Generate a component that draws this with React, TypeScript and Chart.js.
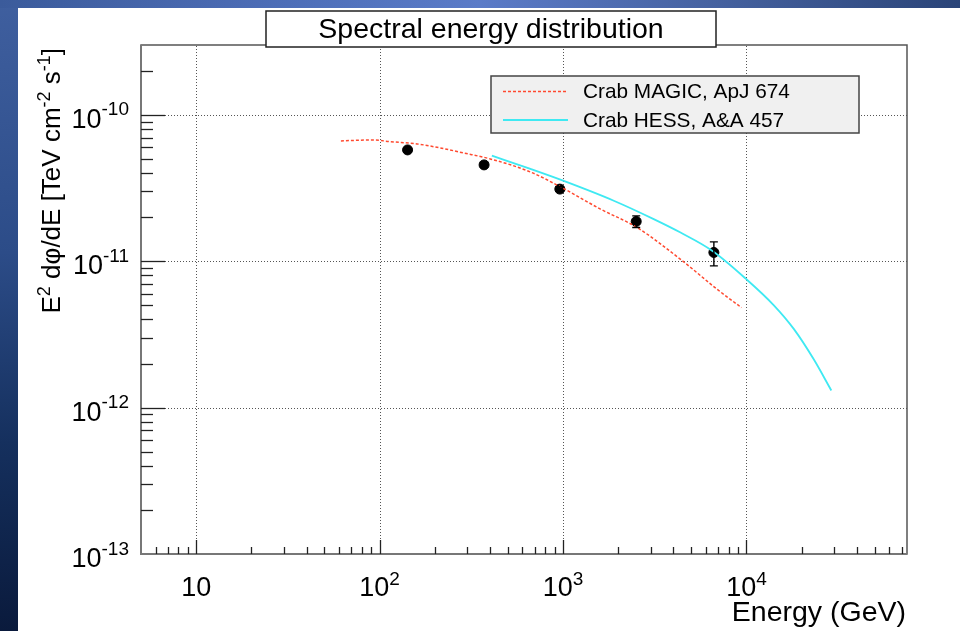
import React, { useEffect, useRef } from 'react';
import { Chart, registerables } from 'chart.js';
Chart.register(...registerables);

// ---------- data ----------
const magicEnergy = [61.5, 92, 114, 160, 214, 287, 401, 664, 1000, 1600, 2530, 4370, 6920, 9390];
const magicFlux = [6.64e-11, 6.74e-11, 6.56e-11, 6.33e-11, 5.94e-11, 5.49e-11, 5.0e-11, 4.07e-11, 3.15e-11, 2.27e-11, 1.7e-11, 1.03e-11, 6.43e-12, 4.82e-12];

const hessEnergy = [409, 664, 1000, 1890, 3120, 4370, 6500, 9910, 14100, 18100, 23300, 29000];
const hessFlux = [5.26e-11, 4.27e-11, 3.55e-11, 2.59e-11, 1.94e-11, 1.57e-11, 1.18e-11, 7.6e-12, 5.0e-12, 3.45e-12, 2.13e-12, 1.31e-12];

const pointEnergy = [142, 371, 960, 2505, 6640];
const pointFlux = [5.76e-11, 4.55e-11, 3.11e-11, 1.87e-11, 1.148e-11];
const pointFluxLow = [5.55e-11, 4.4e-11, 3.0e-11, 1.7e-11, 9.29e-12];
const pointFluxHigh = [5.98e-11, 4.72e-11, 3.23e-11, 2.04e-11, 1.355e-11];

const xMin = 5;
const xMax = 75000;
const yMin = 1e-13;
const yMax = 3e-10;

const xTickValues = [10, 100, 1000, 10000];
const xTickLabels: [string, string][] = [['10', ''], ['10', '2'], ['10', '3'], ['10', '4']];
const yTickValues = [1e-13, 1e-12, 1e-11, 1e-10];
const yTickLabels: [string, string][] = [['10', '-13'], ['10', '-12'], ['10', '-11'], ['10', '-10']];

const seriesNames = ['Crab MAGIC, ApJ 674', 'Crab HESS, A&A 457'];
const chartTitle = 'Spectral energy distribution';
const xTitle = 'Energy (GeV)';
const yTitleParts: [string, boolean][] = [
  ['E', false], ['2', true], [' d\u03c6/dE [TeV cm', false], ['-2', true], [' s', false], ['-1', true], [']', false],
];

const FONT = '"Liberation Sans", Arial, Helvetica, sans-serif';
const MAGIC_COLOR = '#ff4a30';
const HESS_COLOR = '#3fe9f2';

function drawRich(
  ctx: CanvasRenderingContext2D,
  parts: [string, boolean][],
  x: number,
  y: number,
  align: 'left' | 'center' | 'right',
  size: number,
  supSize: number,
  rise: number
) {
  const widths = parts.map(([t, s]) => {
    ctx.font = `${s ? supSize : size}px ${FONT}`;
    return ctx.measureText(t).width;
  });
  const total = widths.reduce((a, b) => a + b, 0);
  let cx = align === 'left' ? x : align === 'center' ? x - total / 2 : x - total;
  ctx.textAlign = 'left';
  ctx.textBaseline = 'alphabetic';
  parts.forEach(([t, s], i) => {
    ctx.font = `${s ? supSize : size}px ${FONT}`;
    ctx.fillText(t, cx, s ? y - rise : y);
    cx += widths[i];
  });
}

const rootStyle = {
  id: 'rootStyle',
  beforeDatasetsDraw(chart: any) {
    const { ctx, chartArea: a, scales } = chart;
    const xs = scales.x;
    const ys = scales.y;
    ctx.save();
    ctx.strokeStyle = '#555';
    ctx.lineWidth = 1;
    ctx.setLineDash([1, 2]);
    xTickValues.forEach((v) => {
      const px = Math.round(xs.getPixelForValue(v)) + 0.5;
      ctx.beginPath();
      ctx.moveTo(px, a.bottom);
      ctx.lineTo(px, a.top);
      ctx.stroke();
    });
    yTickValues.forEach((v) => {
      const py = Math.round(ys.getPixelForValue(v)) + 0.5;
      ctx.beginPath();
      ctx.moveTo(a.left, py);
      ctx.lineTo(a.right, py);
      ctx.stroke();
    });
    ctx.restore();
  },
  afterDatasetsDraw(chart: any) {
    const { ctx, chartArea: a, scales } = chart;
    const xs = scales.x;
    const ys = scales.y;
    ctx.save();

    // error bars
    ctx.strokeStyle = '#000';
    ctx.lineWidth = 1.4;
    pointEnergy.forEach((e, i) => {
      const px = xs.getPixelForValue(e);
      const pl = ys.getPixelForValue(pointFluxLow[i]);
      const ph = ys.getPixelForValue(pointFluxHigh[i]);
      ctx.beginPath();
      ctx.moveTo(px, pl);
      ctx.lineTo(px, ph);
      ctx.moveTo(px - 4, pl);
      ctx.lineTo(px + 4, pl);
      ctx.moveTo(px - 4, ph);
      ctx.lineTo(px + 4, ph);
      ctx.stroke();
    });

    // frame
    ctx.strokeStyle = '#555';
    ctx.lineWidth = 1.5;
    ctx.strokeRect(a.left, a.top, a.right - a.left, a.bottom - a.top);
    ctx.strokeStyle = '#777';
    ctx.lineWidth = 2;
    ctx.beginPath();
    ctx.moveTo(a.left, a.top);
    ctx.lineTo(a.left, a.bottom);
    ctx.lineTo(a.right, a.bottom);
    ctx.stroke();

    // tick marks
    ctx.strokeStyle = '#222';
    ctx.lineWidth = 1.3;
    const xMajorLen = 14;
    const yMajorLen = 24;
    for (let e = Math.floor(Math.log10(xMin)); e <= Math.ceil(Math.log10(xMax)); e++) {
      for (let m = 1; m <= 9; m++) {
        const v = m * Math.pow(10, e);
        if (v <= xMin * 1.0001 || v >= xMax * 0.9999) continue;
        const px = Math.round(xs.getPixelForValue(v)) + 0.5;
        const len = m === 1 ? xMajorLen : xMajorLen / 2;
        ctx.beginPath();
        ctx.moveTo(px, a.bottom);
        ctx.lineTo(px, a.bottom - len);
        ctx.stroke();
      }
    }
    for (let e = Math.floor(Math.log10(yMin)); e <= Math.ceil(Math.log10(yMax)); e++) {
      for (let m = 1; m <= 9; m++) {
        const v = m * Math.pow(10, e);
        if (v <= yMin * 1.0001 || v >= yMax * 0.9999) continue;
        const py = Math.round(ys.getPixelForValue(v)) + 0.5;
        const len = m === 1 ? yMajorLen : yMajorLen / 2;
        ctx.beginPath();
        ctx.moveTo(a.left, py);
        ctx.lineTo(a.left + len, py);
        ctx.stroke();
      }
    }

    // tick labels
    ctx.fillStyle = '#000';
    xTickValues.forEach((v, i) => {
      const px = xs.getPixelForValue(v);
      const [b, s] = xTickLabels[i];
      const parts: [string, boolean][] = s ? [[b, false], [s, true]] : [[b, false]];
      drawRich(ctx, parts, px, a.bottom + 42, 'center', 27, 19, 11);
    });
    yTickValues.forEach((v, i) => {
      const py = ys.getPixelForValue(v);
      const [b, s] = yTickLabels[i];
      drawRich(ctx, [[b, false], [s, true]], a.left - 12, py + 13, 'right', 27, 19, 12.5);
    });

    // axis titles
    drawRich(ctx, [[xTitle, false]], a.right - 1, a.bottom + 67, 'right', 28.5, 19, 10);
    ctx.save();
    ctx.translate(42, a.top + 3);
    ctx.rotate(-Math.PI / 2);
    drawRich(ctx, yTitleParts, 0, 0, 'right', 26, 18, 10);
    ctx.restore();

    // title box
    ctx.fillStyle = '#fff';
    ctx.fillRect(248, 3, 450, 36);
    ctx.strokeStyle = '#222';
    ctx.lineWidth = 1.5;
    ctx.strokeRect(248, 3, 450, 36);
    ctx.fillStyle = '#000';
    drawRich(ctx, [[chartTitle, false]], 473, 30, 'center', 28.5, 18, 10);

    // legend
    ctx.fillStyle = '#f0f0f0';
    ctx.fillRect(473, 68, 368, 57);
    ctx.strokeStyle = '#444';
    ctx.lineWidth = 1.5;
    ctx.strokeRect(473, 68, 368, 57);
    ctx.lineWidth = 1.5;
    ctx.strokeStyle = MAGIC_COLOR;
    ctx.setLineDash([3, 2]);
    ctx.beginPath();
    ctx.moveTo(485, 83.5);
    ctx.lineTo(550, 83.5);
    ctx.stroke();
    ctx.setLineDash([]);
    ctx.strokeStyle = HESS_COLOR;
    ctx.lineWidth = 2;
    ctx.beginPath();
    ctx.moveTo(485, 112);
    ctx.lineTo(550, 112);
    ctx.stroke();
    ctx.fillStyle = '#000';
    drawRich(ctx, [[seriesNames[0], false]], 565, 90, 'left', 20.8, 14, 8);
    drawRich(ctx, [[seriesNames[1], false]], 565, 118.5, 'left', 20.8, 14, 8);

    ctx.restore();
  },
};

export default function App() {
  const ref = useRef<HTMLCanvasElement | null>(null);
  useEffect(() => {
    if (!ref.current) return;
    const chart = new Chart(ref.current, {
      type: 'scatter',
      data: {
        datasets: [
          {
            type: 'line',
            label: seriesNames[0],
            data: magicEnergy.map((e, i) => ({ x: e, y: magicFlux[i] })),
            borderColor: MAGIC_COLOR,
            borderWidth: 1.5,
            borderDash: [3, 2],
            pointRadius: 0,
            fill: false,
            cubicInterpolationMode: 'monotone',
          },
          {
            type: 'line',
            label: seriesNames[1],
            data: hessEnergy.map((e, i) => ({ x: e, y: hessFlux[i] })),
            borderColor: HESS_COLOR,
            borderWidth: 1.8,
            pointRadius: 0,
            fill: false,
            cubicInterpolationMode: 'monotone',
          },
          {
            type: 'scatter',
            label: 'data',
            data: pointEnergy.map((e, i) => ({ x: e, y: pointFlux[i] })),
            backgroundColor: '#000',
            borderColor: '#000',
            pointRadius: 5,
            pointHoverRadius: 5,
          },
        ],
      },
      options: {
        responsive: false,
        maintainAspectRatio: false,
        devicePixelRatio: 1,
        animation: false,
        events: [],
        layout: { padding: { left: 123, top: 37, right: 53, bottom: 77 } },
        plugins: { legend: { display: false }, tooltip: { enabled: false }, title: { display: false } },
        scales: {
          x: {
            type: 'logarithmic',
            min: xMin,
            max: xMax,
            grid: { display: false, drawTicks: false },
            ticks: { display: false },
            border: { display: false },
          },
          y: {
            type: 'logarithmic',
            min: yMin,
            max: yMax,
            grid: { display: false, drawTicks: false },
            ticks: { display: false },
            border: { display: false },
          },
        },
      },
      plugins: [rootStyle],
    } as any);
    return () => chart.destroy();
  }, []);

  return (
    <div
      style={{
        position: 'fixed',
        left: 0,
        top: 0,
        width: 960,
        height: 631,
        overflow: 'hidden',
        background: 'linear-gradient(180deg, #3f5f9f 0%, #2c4c88 40%, #15305e 70%, #0a1a3c 100%)',
      }}
    >
      <div
        style={{
          position: 'absolute',
          left: 0,
          top: 0,
          width: 960,
          height: 8,
          background: 'linear-gradient(90deg, #3b5b9b 0%, #4e6eb8 30%, #5b7bc8 50%, #45619f 75%, #2a4478 100%)',
        }}
      />
      <canvas
        ref={ref}
        width={942}
        height={623}
        style={{ position: 'absolute', left: 18, top: 8, width: 942, height: 623, background: '#fff' }}
      />
    </div>
  );
}
